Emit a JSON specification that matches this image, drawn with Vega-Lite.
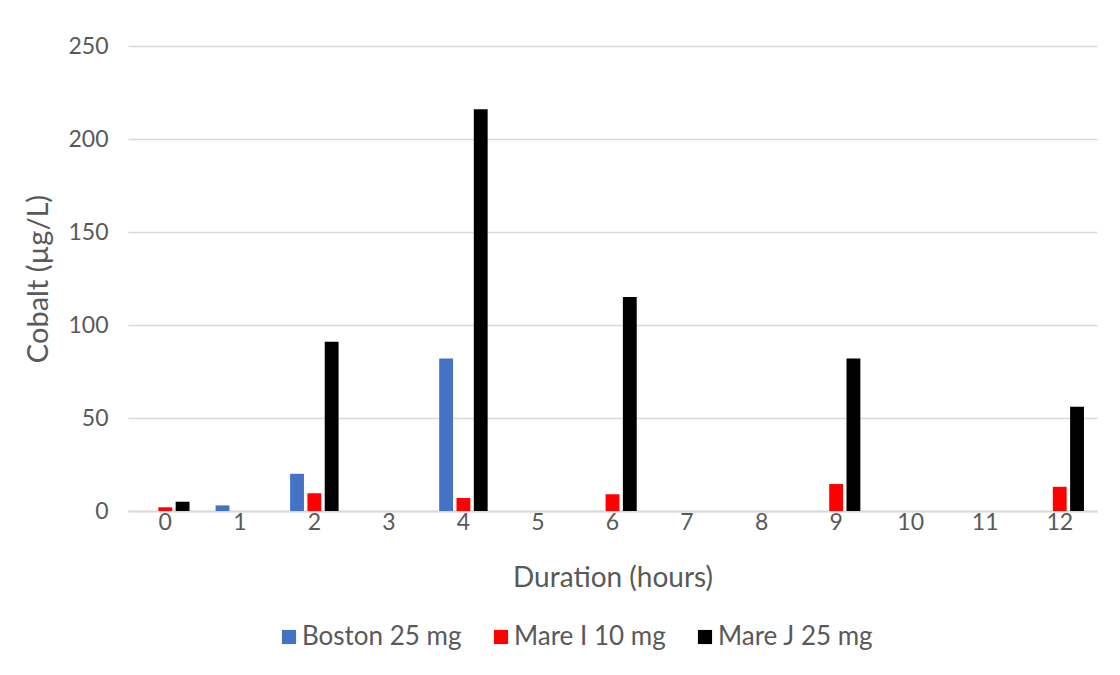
{
  "$schema": "https://vega.github.io/schema/vega-lite/v6.json",
  "autosize": "none",
  "width": 969,
  "height": 465,
  "padding": {"left": 128, "top": 46, "right": 23, "bottom": 164},
  "background": "white",
  "data": {
    "values": [
      {"hour": 0, "series": "Mare I 10 mg", "cobalt": 2},
      {"hour": 0, "series": "Mare J 25 mg", "cobalt": 5},
      {"hour": 1, "series": "Boston 25 mg", "cobalt": 3},
      {"hour": 2, "series": "Boston 25 mg", "cobalt": 20},
      {"hour": 2, "series": "Mare I 10 mg", "cobalt": 9.5},
      {"hour": 2, "series": "Mare J 25 mg", "cobalt": 91},
      {"hour": 4, "series": "Boston 25 mg", "cobalt": 82},
      {"hour": 4, "series": "Mare I 10 mg", "cobalt": 7},
      {"hour": 4, "series": "Mare J 25 mg", "cobalt": 216},
      {"hour": 6, "series": "Mare I 10 mg", "cobalt": 9},
      {"hour": 6, "series": "Mare J 25 mg", "cobalt": 115},
      {"hour": 9, "series": "Mare I 10 mg", "cobalt": 14.5},
      {"hour": 9, "series": "Mare J 25 mg", "cobalt": 82},
      {"hour": 12, "series": "Mare I 10 mg", "cobalt": 13},
      {"hour": 12, "series": "Mare J 25 mg", "cobalt": 56}
    ]
  },
  "mark": {"type": "bar"},
  "encoding": {
    "x": {
      "field": "hour",
      "type": "ordinal",
      "scale": {"domain": [0, 1, 2, 3, 4, 5, 6, 7, 8, 9, 10, 11, 12], "paddingInner": 0.35, "paddingOuter": 0.175},
      "axis": {
        "title": "Duration (hours)",
        "labelAngle": 0,
        "labelFontSize": 23,
        "labelPadding": 0,
        "ticks": false,
        "domainColor": "#d9d9d9",
        "domainWidth": 2,
        "titleFontSize": 28,
        "titleFontWeight": "normal",
        "titlePadding": 30
      }
    },
    "xOffset": {
      "field": "series",
      "type": "nominal",
      "scale": {"domain": ["Boston 25 mg", "Mare I 10 mg", "Mare J 25 mg"], "paddingInner": 0.2, "paddingOuter": 0}
    },
    "y": {
      "field": "cobalt",
      "type": "quantitative",
      "scale": {"domain": [0, 250], "nice": false},
      "axis": {
        "title": "Cobalt (µg/L)",
        "values": [0, 50, 100, 150, 200, 250],
        "labelFontSize": 23,
        "labelPadding": 20,
        "ticks": false,
        "domain": false,
        "gridColor": "#d9d9d9",
        "gridWidth": 1.5,
        "titleFontSize": 29,
        "titleFontWeight": "normal",
        "titlePadding": 14
      }
    },
    "color": {
      "field": "series",
      "type": "nominal",
      "scale": {"domain": ["Boston 25 mg", "Mare I 10 mg", "Mare J 25 mg"], "range": ["#4472C4", "#FF0000", "#000000"]},
      "legend": {
        "title": null,
        "orient": "none",
        "legendX": 148,
        "legendY": 578,
        "direction": "horizontal",
        "columns": 3,
        "columnPadding": 26,
        "symbolType": "square",
        "symbolSize": 200,
        "symbolStrokeWidth": 0,
        "labelFontSize": 26,
        "labelOffset": 0
      }
    }
  },
  "config": {
    "font": "Lato",
    "view": {"stroke": null},
    "axis": {"labelColor": "#595959", "titleColor": "#595959", "labelFont": "Lato", "titleFont": "Lato"},
    "legend": {"labelColor": "#595959", "labelFont": "Lato"}
  }
}
